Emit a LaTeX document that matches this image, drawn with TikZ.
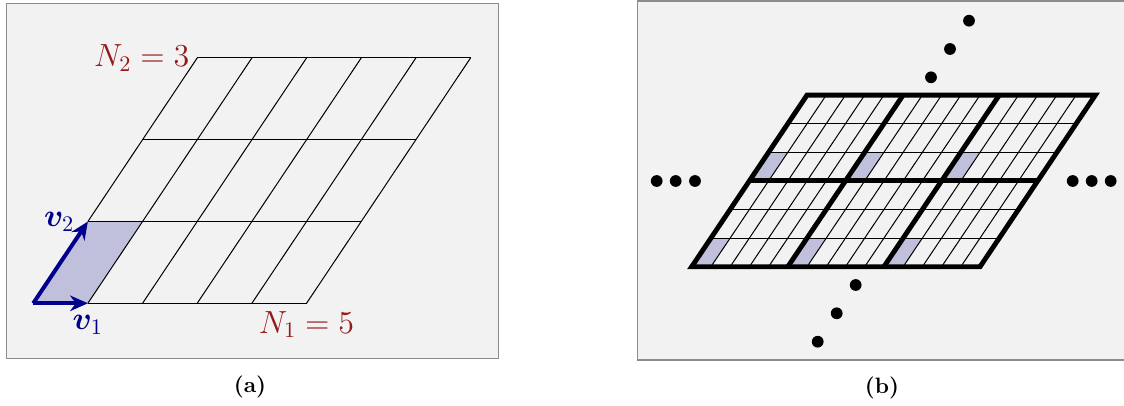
\documentclass[tikz,border=0pt]{standalone}
\usepackage{amsmath,bm}
\usepackage{tikz}
\usetikzlibrary{positioning,arrows.meta,calc}
\definecolor{ltRed}{RGB}{150,25,25}
\definecolor{ltBlue}{RGB}{0,0,140}
\definecolor{ltCell}{RGB}{192,192,220}
\definecolor{ltGray}{RGB}{140,140,140}
\definecolor{ltLight}{RGB}{242,242,242}

\begin{document}
\begin{tikzpicture}[
    x=0.45pt, y=0.45pt,
    panel/.style={draw=ltGray, fill=ltLight, line width=0.5pt},
    thin grid/.style={draw=black, line width=0.45pt},
    thick grid/.style={draw=black, line width=2.2pt, line join=miter},
    unit cell/.style={fill=ltCell},
    vec/.style={->, >={Stealth[length=8pt,width=7pt]}, draw=ltBlue, line width=1.8pt},
    num note/.style={font=\Large, text=ltRed},
    vec note/.style={font=\Large, text=ltBlue},
    bead/.style={fill=black},
    sub label/.style={font=\normalsize\bfseries}
]
  \useasboundingbox (0,0) rectangle (1124,405);
  \path[panel] (6.3,46.7) rectangle (498.3,401.7);
  \path[panel] (637.3,45) rectangle (1130,404);

  % (a) one block of N1 x N2 cells
  \begin{scope}[shift={(33.2,101.7)}, x={(24.6pt,0pt)}, y={(24.6pt,36.8pt)}]
    \coordinate (o) at (0,0);
    \coordinate (e1) at (1,0);
    \coordinate (e2) at (0,1);
    \coordinate (c50) at (5,0);
    \coordinate (c03) at (0,3);
    \fill[unit cell] (o) -- (e1) -- (1,1) -- (e2) -- cycle;
    \foreach \j in {1,2,3} \draw[thin grid] (0,\j) -- (5,\j);
    \draw[thin grid] (e1) -- (c50);
    \draw[thin grid] (e2) -- (c03);
    \foreach \i in {1,...,5} \draw[thin grid] (\i,0) -- (\i,3);
    \draw[vec] (o) -- (e1);
    \draw[vec] (o) -- (e2);
    \node[vec note, below=2pt of e1] (v1) {$\bm{v}_1$};
    \node[vec note, left=2.5pt of e2] (v2) {$\bm{v}_2$};
    \node[num note, below=0pt of c50] (n1) {$N_1 = 5$};
    \node[num note, left=0pt of c03] (n2) {$N_2 = 3$};
  \end{scope}

  % (b) blocks repeated
  \begin{scope}[shift={(691.7,138.3)}, x={(8.65pt,0pt)}, y={(8.65pt,12.87pt)}]
    \foreach \a in {0,5,10}
      \foreach \b in {0,3}
        \fill[unit cell] (\a,\b) -- ++(1,0) -- ++(0,1) -- ++(-1,0) -- cycle;
    \foreach \j in {0,...,6} \draw[thin grid] (0,\j) -- (15,\j);
    \foreach \i in {0,...,15} \draw[thin grid] (\i,0) -- (\i,6);
    \draw[thick grid] (0,3) -- (15,3);
    \foreach \i in {5,10} \draw[thick grid] (\i,0) -- (\i,6);
    \draw[thick grid] (0,0) -- (15,0) -- (15,6) -- (0,6) -- cycle;
  \end{scope}

  \foreach \x in {656.7,675.7,695,1072.7,1091.7,1110.7}
    \fill[bead] (\x,224) circle (2.65pt);
  \foreach \p in {(931,327.7),(950,356),(969,384.3),(817.7,63.3),(836.7,91.7),(855.7,120)}
    \fill[bead] \p circle (2.65pt);

  \node[sub label] (capa) at (250,18.3) {(a)};
  \node[sub label] (capb) at (882,17) {(b)};
\end{tikzpicture}
\end{document}
